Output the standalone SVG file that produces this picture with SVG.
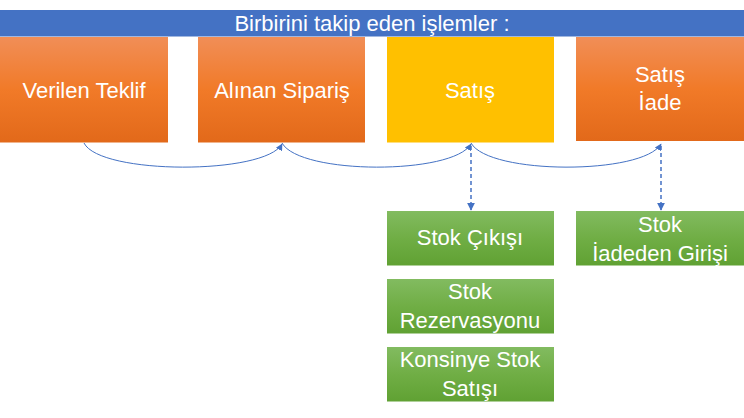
<svg xmlns="http://www.w3.org/2000/svg" width="744" height="418" viewBox="0 0 744 418">
<defs>
<linearGradient id="gOr" x1="0" y1="0" x2="0" y2="1">
<stop offset="0" stop-color="#F18E57"/>
<stop offset="0.5" stop-color="#F17A28"/>
<stop offset="1" stop-color="#E2691A"/>
</linearGradient>
<linearGradient id="gGr" x1="0" y1="0" x2="0" y2="1">
<stop offset="0" stop-color="#82BB60"/>
<stop offset="0.5" stop-color="#70AE45"/>
<stop offset="1" stop-color="#60A133"/>
</linearGradient>
<marker id="ah" viewBox="0 0 10 10" refX="9" refY="5" markerWidth="7" markerHeight="7" markerUnits="userSpaceOnUse" orient="auto">
<path d="M0,0 L10,5 L0,10 z" fill="#4472C4"/>
</marker>
<marker id="ah2" viewBox="0 0 10 10" refX="9" refY="5" markerWidth="8" markerHeight="8" markerUnits="userSpaceOnUse" orient="auto">
<path d="M0,0 L10,5 L0,10 z" fill="#4472C4"/>
</marker>
</defs>
<style>
text{font-family:"Liberation Sans",Arial,sans-serif;fill:#fff;font-size:22px;text-anchor:middle}
.or{fill:url(#gOr)}
.gr{fill:url(#gGr)}
.cur{fill:none;stroke:#4472C4;stroke-width:1}
.dash{fill:none;stroke:#4472C4;stroke-width:1.5;stroke-dasharray:4 3}
</style>
<g id="banner">
<rect x="0" y="10" width="744" height="26.5" fill="#4472C4"/>
<text x="372" y="31">Birbirini takip eden işlemler :</text>
</g>
<g id="verilen-teklif">
<rect class="or" x="0" y="37" width="168" height="105.5"/>
<text x="84" y="98">Verilen Teklif</text>
</g>
<g id="alinan-siparis">
<rect class="or" x="198" y="37" width="167" height="105.5"/>
<text x="282" y="98">Alınan Sipariş</text>
</g>
<g id="satis">
<rect x="387" y="37" width="167" height="105.5" fill="#FFC000"/>
<text x="470" y="98">Satış</text>
</g>
<g id="satis-iade">
<rect class="or" x="576" y="37" width="168" height="104"/>
<text x="660" y="82">Satış</text>
<text x="660" y="110">İade</text>
</g>
<g id="stok-cikisi">
<rect class="gr" x="387" y="211" width="167" height="54.5"/>
<text x="470" y="245">Stok Çıkışı</text>
</g>
<g id="stok-rezervasyonu">
<rect class="gr" x="387" y="279" width="167" height="54.5"/>
<text x="470" y="299">Stok</text>
<text x="470" y="328">Rezervasyonu</text>
</g>
<g id="konsinye-stok-satisi">
<rect class="gr" x="387" y="347" width="167" height="54.5"/>
<text x="470" y="367">Konsinye Stok</text>
<text x="470" y="396">Satışı</text>
</g>
<g id="stok-iadeden-girisi">
<rect class="gr" x="576" y="211" width="168" height="54.5"/>
<text x="660" y="232">Stok</text>
<text x="660" y="261">İadeden Girişi</text>
</g>
<g id="connectors">
<path class="cur" d="M84,143 C100,175 265,175 282,144" marker-end="url(#ah)"/>
<path class="cur" d="M282,143 C300,175 453,175 471,144" marker-end="url(#ah)"/>
<path class="cur" d="M471,143 C489,175 643,175 661,144" marker-end="url(#ah)"/>
<path class="dash" d="M471,146 L471,210" marker-end="url(#ah2)"/>
<path class="dash" d="M661,146 L661,210" marker-end="url(#ah2)"/>
</g>
</svg>
